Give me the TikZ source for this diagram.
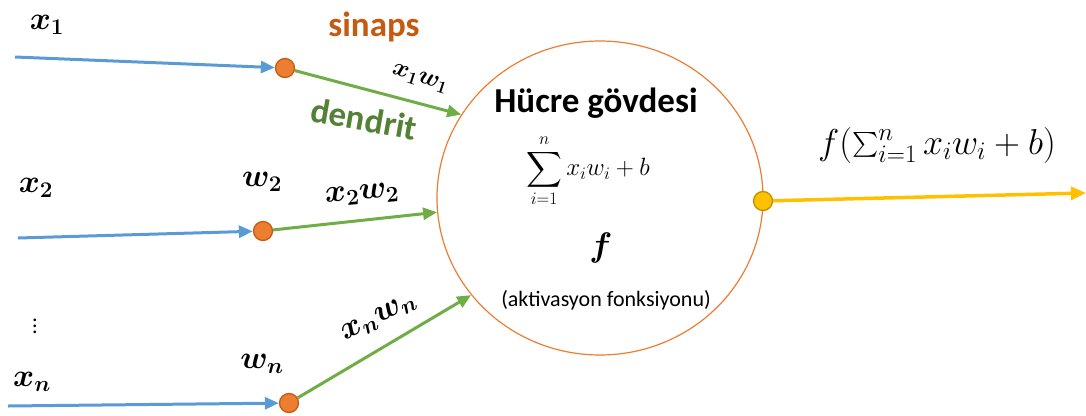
\documentclass[tikz,border=0pt]{standalone}
\usepackage{fix-cm}
\usepackage{amsmath,bm}
\usepackage{fontspec}
\setmainfont{Carlito}
\usetikzlibrary{arrows.meta,shapes.geometric}
\definecolor{cblue}{HTML}{5B9BD5}
\definecolor{cgreen}{HTML}{70AD47}
\definecolor{cdgreen}{HTML}{538135}
\definecolor{corange}{HTML}{ED7D31}
\definecolor{cdorange}{HTML}{C55A11}
\definecolor{cyellow}{HTML}{FFC000}
\definecolor{cdyellow}{HTML}{BF9000}
\tikzset{
  synapse/.style={circle,fill=corange,draw=cdorange,line width=1.3pt,minimum size=19pt,inner sep=0pt},
  outdot/.style={circle,fill=cyellow,draw=cdyellow,line width=1.3pt,minimum size=19pt,inner sep=0pt},
  inarrow/.style={draw=cblue,line width=3pt,-{Triangle[length=14pt,width=12pt]}},
  dendarrow/.style={draw=cgreen,line width=3pt,-{Triangle[length=14pt,width=12pt]}},
  outarrow/.style={draw=cyellow,line width=3.5pt,-{Triangle[length=15pt,width=13pt]}},
  mlabel/.style={inner sep=0pt,font=\fontsize{32}{36}\selectfont},
  slabel/.style={inner sep=0pt,font=\fontsize{25}{29}\selectfont},
  bigsans/.style={inner sep=0pt,font=\fontsize{35}{40}\selectfont\bfseries},
}
\begin{document}
\begin{tikzpicture}[x=1pt,y=-1pt]
\useasboundingbox (0,0) rectangle (1086,415);
% cell body
\node[draw=corange,line width=1.2pt,ellipse,minimum width=326pt,minimum height=314pt,inner sep=0pt] (cell) at (600,198) {};
% synapses
\node[synapse] (s1) at (285,68) {};
\node[synapse] (s2) at (263,231) {};
\node[synapse] (sn) at (289,403) {};
\node[outdot] (o) at (763,201) {};
% input starts
\coordinate (i1) at (15,57);
\coordinate (i2) at (18,238);
\coordinate (in) at (8,406);
\coordinate (oend) at (1086,193);
% connectors
\draw[inarrow] (i1) -- (s1);
\draw[inarrow] (i2) -- (s2);
\draw[inarrow] (in) -- (sn);
\draw[dendarrow] (s1) -- (cell.149.6);
\draw[dendarrow] (s2) -- (cell.185.4);
\draw[dendarrow] (sn) -- (cell.217.4);
\draw[outarrow] (o) -- (oend);
% labels
\node[mlabel] (lx1) at (47,25) {$\bm{x_1}$};
\node[mlabel] (lx2) at (36,188) {$\bm{x_2}$};
\node[inner sep=0pt,align=center,font=\fontsize{22}{6}\selectfont] (ldots) at (35,326) {.\\.\\.};
\node[mlabel] (lxn) at (32,382) {$\bm{x_n}$};
\node[mlabel] (lw2) at (262,182) {$\bm{w_2}$};
\node[mlabel] (lwn) at (262,364) {$\bm{w_n}$};
\node[slabel,rotate=-18] (lx1w1) at (420,79) {$\bm{x_1 w_1}$};
\node[mlabel,rotate=5] (lx2w2) at (362,195) {$\bm{x_2 w_2}$};
\node[mlabel,rotate=27] (lxnwn) at (379,318) {$\bm{x_n w_n}$};
\node[bigsans,text=cdorange] (lsin) at (374,27) {sinaps};
\node[bigsans,text=cdgreen,rotate=-10] (lden) at (364,119) {dendrit};
\node[bigsans] (lcell) at (596,103) {Hücre gövdesi};
\node[inner sep=0pt,font=\fontsize{25}{29}\selectfont] (lsum) at (588,171) {$\displaystyle\sum_{i=1}^{n} x_i w_i + b$};
\node[inner sep=0pt,font=\fontsize{34}{38}\selectfont] (lf) at (601,248) {$\bm{f}$};
\node[inner sep=0pt,font=\fontsize{22}{26}\selectfont] (lact) at (606,300) {(aktivasyon fonksiyonu)};
\node[inner sep=0pt,font=\fontsize{36}{40}\selectfont] (lout) at (937,145) {$f(\sum_{i=1}^{n} x_i w_i + b)$};
\end{tikzpicture}
\end{document}
